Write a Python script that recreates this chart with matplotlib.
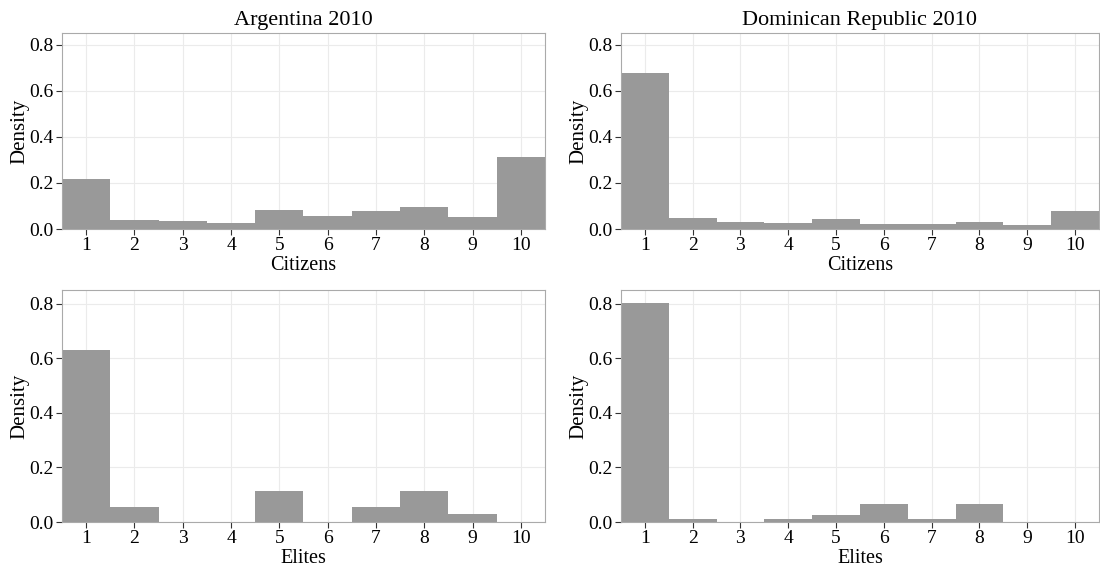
import matplotlib
matplotlib.use("Agg")
import matplotlib.pyplot as plt

plt.rcParams['font.family'] = ['Liberation Serif', 'DejaVu Serif']

# escala 1..10
escala = [1, 2, 3, 4, 5, 6, 7, 8, 9, 10]

# densidades
arg_cidadaos = [0.218, 0.038, 0.035, 0.026, 0.082, 0.055, 0.078, 0.094, 0.053, 0.312]
dom_cidadaos = [0.677, 0.048, 0.032, 0.025, 0.045, 0.022, 0.022, 0.029, 0.017, 0.077]
arg_elites = [0.629, 0.056, 0.0, 0.0, 0.112, 0.0, 0.056, 0.112, 0.028, 0.0]
dom_elites = [0.802, 0.011, 0.0, 0.011, 0.026, 0.065, 0.011, 0.065, 0.0, 0.0]

titulos = ["Argentina 2010", "Dominican Republic 2010"]
rotulos_x = ["Citizens", "Elites"]
y_ticks = [0.0, 0.2, 0.4, 0.6, 0.8]

fig = plt.figure(figsize=(11, 5.69), dpi=100)

# posicoes dos paineis [esq, baixo, larg, alt]
posicoes = {
    (0, 0): [0.0564, 0.5975, 0.439, 0.3445],
    (0, 1): [0.5645, 0.5975, 0.4345, 0.3445],
    (1, 0): [0.0564, 0.0826, 0.439, 0.4077],
    (1, 1): [0.5645, 0.0826, 0.4345, 0.4077],
}
dados = {
    (0, 0): arg_cidadaos,
    (0, 1): dom_cidadaos,
    (1, 0): arg_elites,
    (1, 1): dom_elites,
}

for (lin, col), pos in posicoes.items():
    ax = fig.add_axes(pos)
    ax.bar(escala, dados[(lin, col)], width=1.0, color='#999999', edgecolor='none', zorder=2)
    ax.set_xlim(0.5, 10.5)
    ax.set_ylim(0, 0.85)
    ax.set_xticks(escala)
    ax.set_yticks(y_ticks)
    ax.set_yticklabels([f"{v:.1f}" for v in y_ticks])
    ax.grid(True, color='#EBEBEB', linewidth=0.8, zorder=0)
    ax.set_axisbelow(True)
    for s in ax.spines.values():
        s.set_color('#AAAAAA')
        s.set_linewidth(0.8)
    ax.tick_params(axis='both', direction='out', length=4, width=0.8, color='#333333',
                   labelsize=14, labelcolor='black', pad=2)
    ax.set_xlabel(rotulos_x[lin], fontsize=14.5, labelpad=1)
    ax.set_ylabel('Density', fontsize=15, labelpad=0)
    if lin == 0:
        ax.set_title(titulos[col], fontsize=16, pad=6)

fig.savefig('out.png', dpi=100)
